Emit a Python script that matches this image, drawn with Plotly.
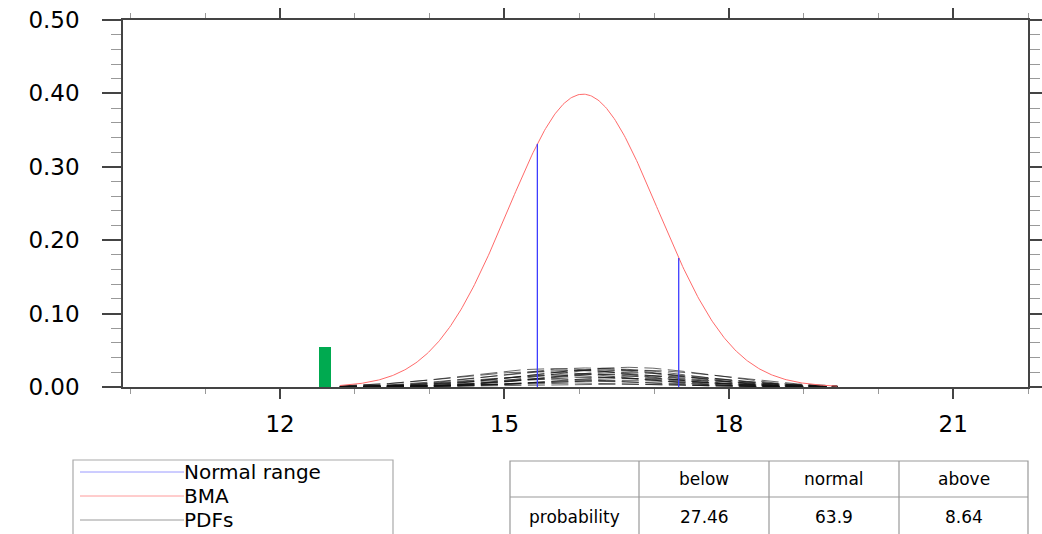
import numpy as np
import plotly.graph_objects as go

# ---------------- data ----------------
bma_mean = 16.05
bma_sigma = 1.0
normal_range = [15.44, 17.33]          # lower / upper bound of normal range
obs_value = [12.6]                     # observed value (green bar)
obs_height = [0.055]

member_means = [15.45, 15.55, 15.65, 15.75, 15.85, 15.9, 16.0, 16.05, 16.1, 16.2,
                16.25, 16.3, 16.4, 16.45, 16.5, 16.6, 16.65, 16.75, 16.8, 16.9]
member_sigmas = [1.15, 1.1, 1.2, 1.15, 1.1, 1.2, 1.15, 1.1, 1.2, 1.15,
                 1.1, 1.2, 1.15, 1.1, 1.2, 1.15, 1.1, 1.2, 1.15, 1.1]
member_weights = [0.060, 0.030, 0.075, 0.045, 0.015, 0.068, 0.052, 0.022, 0.078, 0.038,
                  0.064, 0.012, 0.071, 0.048, 0.027, 0.057, 0.074, 0.035, 0.066, 0.042]

x_ticks = [12, 15, 18, 21]
table_header = ["", "below", "normal", "above"]
table_row = ["probability", "27.46", "63.9", "8.64"]
legend_labels = ["Normal range", "BMA", "PDFs"]
legend_colors = ["#9a9aff", "#ff9a9a", "#9a9a9a"]

# ---------------- helpers ----------------
W, H = 1042, 534
def px(x):
    return x / W
def py(y):
    return 1 - y / H

def npdf(x, m, s):
    return np.exp(-0.5 * ((x - m) / s) ** 2) / (s * np.sqrt(2 * np.pi))

xs = np.linspace(12.8, 19.45, 400)

fig = go.Figure()

# ensemble member PDFs (dashed black)
for m, s, w in zip(member_means, member_sigmas, member_weights):
    fig.add_trace(go.Scatter(x=xs, y=w * npdf(xs, m, s), mode="lines",
                             line=dict(color="#111", width=0.8, dash="17px,6.5px"),
                             opacity=0.8, showlegend=False, hoverinfo="skip"))

# BMA curve
fig.add_trace(go.Scatter(x=xs, y=npdf(xs, bma_mean, bma_sigma), mode="lines",
                         line=dict(color="#ff6a6a", width=1), showlegend=False))

# normal range vertical lines
for b in normal_range:
    fig.add_trace(go.Scatter(x=[b, b], y=[0, float(npdf(b, bma_mean, bma_sigma))],
                             mode="lines", line=dict(color="#3d3dff", width=1.3),
                             showlegend=False))

# observation bar
fig.add_trace(go.Bar(x=obs_value, y=obs_height, width=0.16,
                     marker=dict(color="#00aa50", line=dict(width=0)),
                     showlegend=False))

axis_common = dict(showline=True, linecolor="#444", linewidth=1.5, mirror="allticks",
                   ticks="outside", tickcolor="#444", tickwidth=1.5,
                   showgrid=False, zeroline=False, automargin=False,
                   tickfont=dict(family="DejaVu Sans", size=23, color="black"))

fig.update_layout(
    width=W, height=H, margin=dict(l=0, r=0, t=0, b=0),
    paper_bgcolor="white", plot_bgcolor="white",
    xaxis=dict(domain=[px(123), px(1028)], range=[9.9, 22.0],
               tickvals=x_ticks, ticklen=10, ticklabelstandoff=6,
               minor=dict(dtick=1, tick0=0, ticks="outside", ticklen=5,
                          tickcolor="#999", tickwidth=1.2),
               **axis_common),
    yaxis=dict(domain=[py(387), py(20)], range=[0, 0.5],
               dtick=0.1, tickformat=".2f", ticklen=19, ticklabelstandoff=18,
               minor=dict(dtick=0.02, ticks="outside", ticklen=10,
                          tickcolor="#999", tickwidth=1.2),
               **axis_common),
    bargap=0,
)

# ---------------- legend box (bottom-left) ----------------
fig.add_shape(type="rect", xref="paper", yref="paper",
              x0=px(73), x1=px(393), y0=py(536), y1=py(460),
              line=dict(color="#aaaaaa", width=1.2), fillcolor="white")
for i, (lab, col) in enumerate(zip(legend_labels, legend_colors)):
    yy = 472 + i * 24
    fig.add_shape(type="line", xref="paper", yref="paper",
                  x0=px(80), x1=px(184), y0=py(yy), y1=py(yy),
                  line=dict(color=col, width=1))
    fig.add_annotation(xref="paper", yref="paper", x=px(183), y=py(yy),
                       text=lab, showarrow=False, xanchor="left", yanchor="middle",
                       borderpad=0,
                       font=dict(family="DejaVu Sans", size=20, color="black"))

# ---------------- probability table (bottom-right) ----------------
col_edges = [510, 639, 769, 899, 1028]
row_edges = [461, 497, 536]
fig.add_shape(type="rect", xref="paper", yref="paper",
              x0=px(col_edges[0]), x1=px(col_edges[-1]),
              y0=py(row_edges[-1]), y1=py(row_edges[0]),
              line=dict(color="#999999", width=1.2), fillcolor="white")
for xe in col_edges[1:-1]:
    fig.add_shape(type="line", xref="paper", yref="paper",
                  x0=px(xe), x1=px(xe), y0=py(row_edges[0]), y1=py(row_edges[-1]),
                  line=dict(color="#999999", width=1.2))
fig.add_shape(type="line", xref="paper", yref="paper",
              x0=px(col_edges[0]), x1=px(col_edges[-1]), y0=py(row_edges[1]), y1=py(row_edges[1]),
              line=dict(color="#999999", width=1.2))
for r, row in enumerate([table_header, table_row]):
    yc = (row_edges[r] + row_edges[r + 1]) / 2
    for c, txt in enumerate(row):
        if not txt:
            continue
        xc = (col_edges[c] + col_edges[c + 1]) / 2
        fig.add_annotation(xref="paper", yref="paper", x=px(xc), y=py(yc),
                           text=txt, showarrow=False, xanchor="center", yanchor="middle",
                           font=dict(family="DejaVu Sans", size=17, color="black"))

fig.write_html("out.html")
